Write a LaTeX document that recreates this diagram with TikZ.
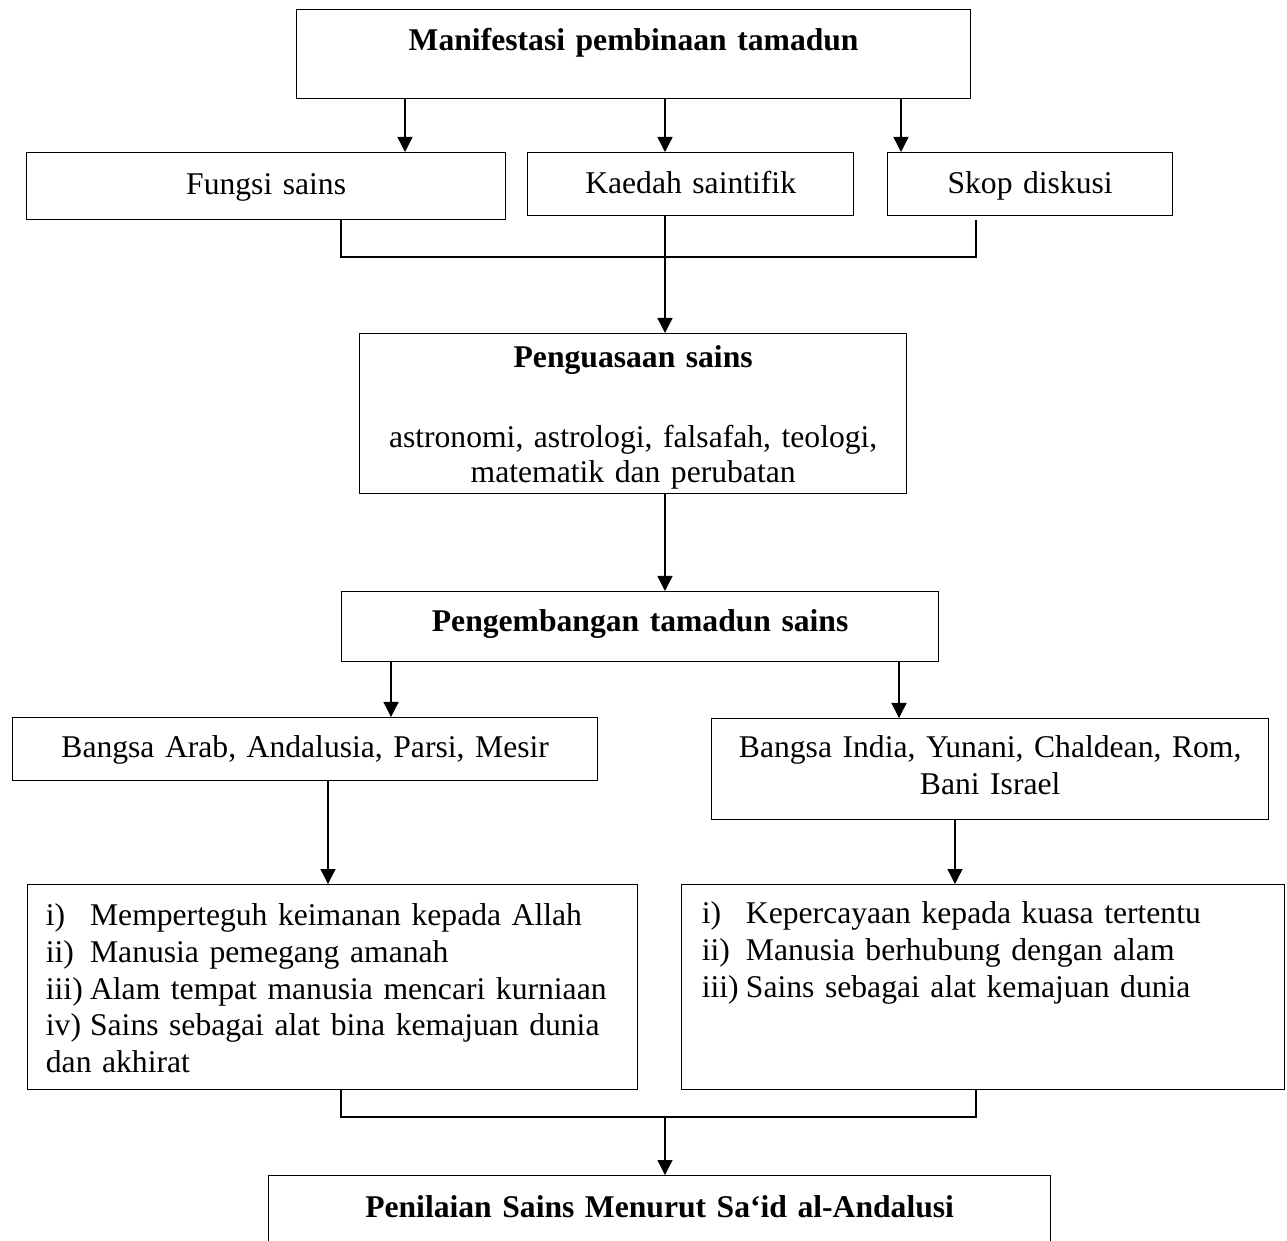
\documentclass[tikz,border=0pt]{standalone}
\usepackage{fontspec}
\setmainfont{Liberation Serif}
\usetikzlibrary{arrows.meta}
\tikzset{
  box/.style={draw, line width=0.5pt, inner sep=0pt, anchor=north west, align=center,
    font=\fontsize{11.8pt}{13.7pt}\selectfont},
  listbox/.style={box, align=left, inner xsep=6.8pt},
  arr/.style={line width=0.5pt, -{Triangle[length=5.6pt,width=5.6pt]}},
  conn/.style={line width=0.5pt}
}
\newcommand{\itm}[1]{\makebox[16.5pt][l]{#1}}

\begin{document}
\begin{tikzpicture}[x=0.3731pt, y=-0.3731pt]
\useasboundingbox (0,0) rectangle (1287,1241);
\coordinate (c1) at (405,0);
\coordinate (c2) at (665,0);
\coordinate (c3) at (901,0);
\coordinate (b1) at (341,0);
\coordinate (b2) at (976,0);
\coordinate (d1) at (391,0);
\coordinate (d2) at (899,0);
\coordinate (e1) at (328,0);
\coordinate (e2) at (955,0);
\coordinate (j1) at (665,257);
\coordinate (j2) at (665,1117);

\node[box, text width=251.47pt, text height=15.30pt, text depth=17.91pt] (manifestasi) at (296,9) {\bfseries Manifestasi pembinaan tamadun};
\node[box, text width=178.71pt, text height=15.67pt, text depth=9.33pt] (fungsi) at (26,152) {Fungsi sains};
\node[box, text width=121.63pt, text height=15.30pt, text depth=8.21pt] (kaedah) at (527,152) {Kaedah saintifik};
\node[box, text width=106.33pt, text height=15.30pt, text depth=8.21pt] (skop) at (887,152) {Skop diskusi};
\node[box, font=\fontsize{11.8pt}{12.9pt}\selectfont, text width=204.09pt, text height=12.69pt, text depth=47.01pt] (penguasaan) at (359,333)
  {{\bfseries Penguasaan sains}\\[16.95pt] astronomi, astrologi, falsafah, teologi,\\ matematik dan perubatan};
\node[box, text width=222.74pt, text height=14.92pt, text depth=11.19pt] (pengembangan) at (341,591) {\bfseries Pengembangan tamadun sains};
\node[box, text width=218.26pt, text height=14.92pt, text depth=8.58pt] (arab) at (12,717) {Bangsa Arab, Andalusia, Parsi, Mesir};
\node[box, text width=207.82pt, text height=14.55pt, text depth=23.13pt] (india) at (711,718) {Bangsa India, Yunani, Chaldean, Rom,\\ Bani Israel};
\node[listbox, text width=214pt, text height=15.30pt, text depth=61.19pt] (kiri) at (27,884)
  {\itm{i)}Memperteguh keimanan kepada Allah\\
   \itm{ii)}Manusia pemegang amanah\\
   \itm{iii)}Alam tempat manusia mencari kurniaan\\
   \itm{iv)}Sains sebagai alat bina kemajuan dunia\\
   dan akhirat};
\node[listbox, inner xsep=7.5pt, text width=209.98pt, text height=14.55pt, text depth=61.93pt] (kanan) at (681,884)
  {\itm{i)}Kepercayaan kepada kuasa tertentu\\
   \itm{ii)}Manusia berhubung dengan alam\\
   \itm{iii)}Sains sebagai alat kemajuan dunia};
\node[box, text width=291.76pt, text height=15.67pt, text depth=29.10pt] (penilaian) at (268,1175) {\bfseries Penilaian Sains Menurut Sa‘id al-Andalusi};

\draw[arr] (manifestasi.south -| c1) -- (fungsi.north -| c1);
\draw[arr] (manifestasi.south -| c2) -- (kaedah.north -| c2);
\draw[arr] (manifestasi.south -| c3) -- (skop.north -| c3);
\draw[conn] (fungsi.south -| b1) -- (b1 |- j1) -- (b2 |- j1) -- (b2 |- fungsi.south);
\draw[arr] (kaedah.south -| c2) -- (penguasaan.north -| c2);
\draw[arr] (penguasaan.south -| c2) -- (pengembangan.north -| c2);
\draw[arr] (pengembangan.south -| d1) -- (arab.north -| d1);
\draw[arr] (pengembangan.south -| d2) -- (india.north -| d2);
\draw[arr] (arab.south -| e1) -- (kiri.north -| e1);
\draw[arr] (india.south -| e2) -- (kanan.north -| e2);
\draw[conn] (kiri.south -| b1) -- (b1 |- j2) -- (b2 |- j2) -- (kanan.south -| b2);
\draw[arr] (j2) -- (penilaian.north -| j2);
\end{tikzpicture}
\end{document}
